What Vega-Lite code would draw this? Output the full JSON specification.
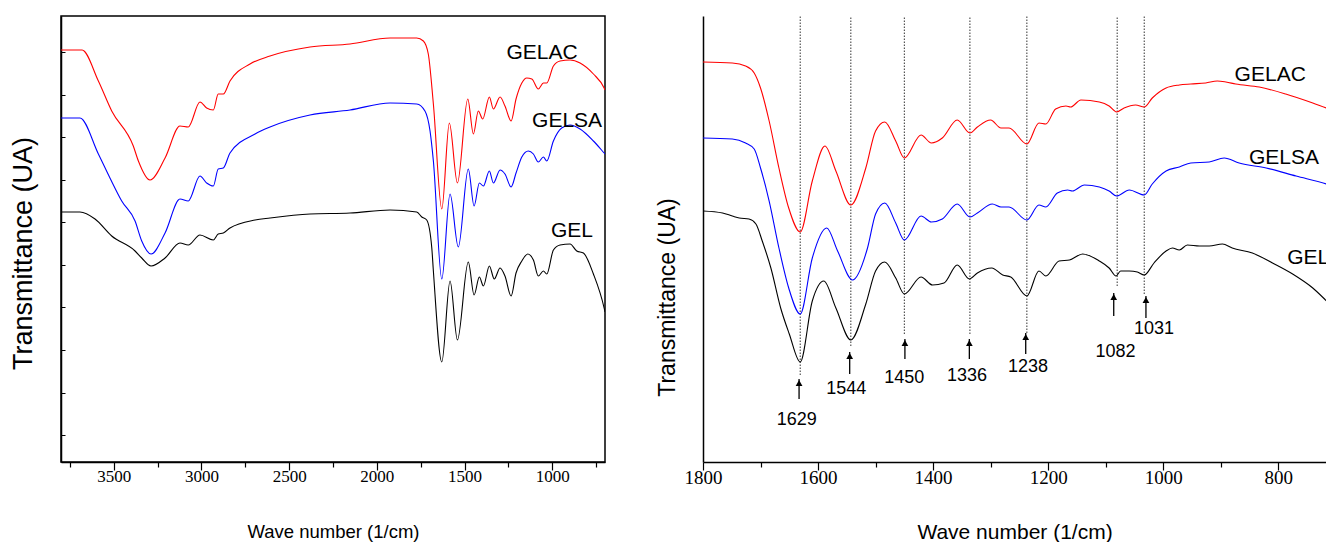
{
  "$schema": "https://vega.github.io/schema/vega-lite/v6.json",
  "padding": {"left": 8, "top": 15, "right": 0, "bottom": 0},
  "spacing": 50,
  "background": "white",
  "config": {
    "view": {"stroke": "black", "strokeWidth": 1.5},
    "axis": {"domainColor": "black", "domainWidth": 1.5, "tickColor": "black", "tickWidth": 1.2, "labelFont": "Liberation Serif", "labelFontSize": 19, "labelColor": "black", "titleFont": "Liberation Sans", "titleFontWeight": "normal", "titleColor": "black", "grid": false, "labelFlush": false, "labelOverlap": false}
  },
  "datasets": {
    "spectra": [
      {"panel": "A", "series": "GELAC", "wn": 3800, "t": 412}, {"panel": "A", "series": "GELAC", "wn": 3680, "t": 412}, {"panel": "A", "series": "GELAC", "wn": 3587, "t": 381}, {"panel": "A", "series": "GELAC", "wn": 3511, "t": 351}, {"panel": "A", "series": "GELAC", "wn": 3388, "t": 316}, {"panel": "A", "series": "GELAC", "wn": 3359, "t": 301}, {"panel": "A", "series": "GELAC", "wn": 3293, "t": 282}, {"panel": "A", "series": "GELAC", "wn": 3207, "t": 304}, {"panel": "A", "series": "GELAC", "wn": 3122, "t": 336}, {"panel": "A", "series": "GELAC", "wn": 3075, "t": 335}, {"panel": "A", "series": "GELAC", "wn": 3008, "t": 360}, {"panel": "A", "series": "GELAC", "wn": 2970, "t": 354}, {"panel": "A", "series": "GELAC", "wn": 2932, "t": 352}, {"panel": "A", "series": "GELAC", "wn": 2904, "t": 368}, {"panel": "A", "series": "GELAC", "wn": 2875, "t": 368}, {"panel": "A", "series": "GELAC", "wn": 2837, "t": 381}, {"panel": "A", "series": "GELAC", "wn": 2723, "t": 398}, {"panel": "A", "series": "GELAC", "wn": 2609, "t": 406}, {"panel": "A", "series": "GELAC", "wn": 2381, "t": 415}, {"panel": "A", "series": "GELAC", "wn": 2153, "t": 418}, {"panel": "A", "series": "GELAC", "wn": 1925, "t": 424}, {"panel": "A", "series": "GELAC", "wn": 1773, "t": 424}, {"panel": "A", "series": "GELAC", "wn": 1735, "t": 421}, {"panel": "A", "series": "GELAC", "wn": 1707, "t": 408}, {"panel": "A", "series": "GELAC", "wn": 1678, "t": 358}, {"panel": "A", "series": "GELAC", "wn": 1630, "t": 253}, {"panel": "A", "series": "GELAC", "wn": 1587, "t": 339}, {"panel": "A", "series": "GELAC", "wn": 1541, "t": 279}, {"panel": "A", "series": "GELAC", "wn": 1482, "t": 363}, {"panel": "A", "series": "GELAC", "wn": 1450, "t": 328}, {"panel": "A", "series": "GELAC", "wn": 1422, "t": 351}, {"panel": "A", "series": "GELAC", "wn": 1397, "t": 343}, {"panel": "A", "series": "GELAC", "wn": 1359, "t": 365}, {"panel": "A", "series": "GELAC", "wn": 1336, "t": 353}, {"panel": "A", "series": "GELAC", "wn": 1298, "t": 365}, {"panel": "A", "series": "GELAC", "wn": 1270, "t": 356}, {"panel": "A", "series": "GELAC", "wn": 1235, "t": 341}, {"panel": "A", "series": "GELAC", "wn": 1207, "t": 363}, {"panel": "A", "series": "GELAC", "wn": 1174, "t": 379}, {"panel": "A", "series": "GELAC", "wn": 1146, "t": 384}, {"panel": "A", "series": "GELAC", "wn": 1117, "t": 383}, {"panel": "A", "series": "GELAC", "wn": 1080, "t": 373}, {"panel": "A", "series": "GELAC", "wn": 1051, "t": 379}, {"panel": "A", "series": "GELAC", "wn": 1032, "t": 379}, {"panel": "A", "series": "GELAC", "wn": 994, "t": 396}, {"panel": "A", "series": "GELAC", "wn": 956, "t": 401}, {"panel": "A", "series": "GELAC", "wn": 899, "t": 402}, {"panel": "A", "series": "GELAC", "wn": 842, "t": 399}, {"panel": "A", "series": "GELAC", "wn": 766, "t": 388}, {"panel": "A", "series": "GELAC", "wn": 705, "t": 374}, {"panel": "A", "series": "GELAC", "wn": 700, "t": 372},
      {"panel": "A", "series": "GELSA", "wn": 3800, "t": 344}, {"panel": "A", "series": "GELSA", "wn": 3692, "t": 344}, {"panel": "A", "series": "GELSA", "wn": 3587, "t": 308}, {"panel": "A", "series": "GELSA", "wn": 3521, "t": 284}, {"panel": "A", "series": "GELSA", "wn": 3454, "t": 261}, {"panel": "A", "series": "GELSA", "wn": 3378, "t": 241}, {"panel": "A", "series": "GELSA", "wn": 3340, "t": 221}, {"panel": "A", "series": "GELSA", "wn": 3287, "t": 208}, {"panel": "A", "series": "GELSA", "wn": 3207, "t": 229}, {"panel": "A", "series": "GELSA", "wn": 3122, "t": 263}, {"panel": "A", "series": "GELSA", "wn": 3075, "t": 261}, {"panel": "A", "series": "GELSA", "wn": 3008, "t": 286}, {"panel": "A", "series": "GELSA", "wn": 2970, "t": 279}, {"panel": "A", "series": "GELSA", "wn": 2932, "t": 276}, {"panel": "A", "series": "GELSA", "wn": 2904, "t": 293}, {"panel": "A", "series": "GELSA", "wn": 2875, "t": 294}, {"panel": "A", "series": "GELSA", "wn": 2837, "t": 309}, {"panel": "A", "series": "GELSA", "wn": 2694, "t": 328}, {"panel": "A", "series": "GELSA", "wn": 2609, "t": 335}, {"panel": "A", "series": "GELSA", "wn": 2381, "t": 347}, {"panel": "A", "series": "GELSA", "wn": 2153, "t": 352}, {"panel": "A", "series": "GELSA", "wn": 1925, "t": 359}, {"panel": "A", "series": "GELSA", "wn": 1773, "t": 358}, {"panel": "A", "series": "GELSA", "wn": 1726, "t": 351}, {"panel": "A", "series": "GELSA", "wn": 1697, "t": 331}, {"panel": "A", "series": "GELSA", "wn": 1678, "t": 301}, {"panel": "A", "series": "GELSA", "wn": 1630, "t": 183}, {"panel": "A", "series": "GELSA", "wn": 1583, "t": 268}, {"panel": "A", "series": "GELSA", "wn": 1536, "t": 215}, {"panel": "A", "series": "GELSA", "wn": 1479, "t": 293}, {"panel": "A", "series": "GELSA", "wn": 1446, "t": 256}, {"panel": "A", "series": "GELSA", "wn": 1416, "t": 279}, {"panel": "A", "series": "GELSA", "wn": 1393, "t": 276}, {"panel": "A", "series": "GELSA", "wn": 1359, "t": 291}, {"panel": "A", "series": "GELSA", "wn": 1336, "t": 279}, {"panel": "A", "series": "GELSA", "wn": 1298, "t": 292}, {"panel": "A", "series": "GELSA", "wn": 1270, "t": 288}, {"panel": "A", "series": "GELSA", "wn": 1235, "t": 275}, {"panel": "A", "series": "GELSA", "wn": 1207, "t": 289}, {"panel": "A", "series": "GELSA", "wn": 1174, "t": 305}, {"panel": "A", "series": "GELSA", "wn": 1137, "t": 311}, {"panel": "A", "series": "GELSA", "wn": 1108, "t": 308}, {"panel": "A", "series": "GELSA", "wn": 1080, "t": 300}, {"panel": "A", "series": "GELSA", "wn": 1051, "t": 305}, {"panel": "A", "series": "GELSA", "wn": 1032, "t": 301}, {"panel": "A", "series": "GELSA", "wn": 994, "t": 321}, {"panel": "A", "series": "GELSA", "wn": 947, "t": 334}, {"panel": "A", "series": "GELSA", "wn": 899, "t": 337}, {"panel": "A", "series": "GELSA", "wn": 842, "t": 333}, {"panel": "A", "series": "GELSA", "wn": 766, "t": 321}, {"panel": "A", "series": "GELSA", "wn": 705, "t": 309}, {"panel": "A", "series": "GELSA", "wn": 700, "t": 308},
      {"panel": "A", "series": "GEL", "wn": 3800, "t": 250}, {"panel": "A", "series": "GEL", "wn": 3692, "t": 250}, {"panel": "A", "series": "GEL", "wn": 3606, "t": 243}, {"panel": "A", "series": "GEL", "wn": 3511, "t": 226}, {"panel": "A", "series": "GEL", "wn": 3378, "t": 211}, {"panel": "A", "series": "GEL", "wn": 3340, "t": 204}, {"panel": "A", "series": "GEL", "wn": 3287, "t": 196}, {"panel": "A", "series": "GEL", "wn": 3207, "t": 204}, {"panel": "A", "series": "GEL", "wn": 3122, "t": 219}, {"panel": "A", "series": "GEL", "wn": 3075, "t": 217}, {"panel": "A", "series": "GEL", "wn": 3008, "t": 227}, {"panel": "A", "series": "GEL", "wn": 2932, "t": 222}, {"panel": "A", "series": "GEL", "wn": 2904, "t": 228}, {"panel": "A", "series": "GEL", "wn": 2875, "t": 229}, {"panel": "A", "series": "GEL", "wn": 2837, "t": 234}, {"panel": "A", "series": "GEL", "wn": 2694, "t": 242}, {"panel": "A", "series": "GEL", "wn": 2609, "t": 244}, {"panel": "A", "series": "GEL", "wn": 2381, "t": 248}, {"panel": "A", "series": "GEL", "wn": 2153, "t": 249}, {"panel": "A", "series": "GEL", "wn": 1925, "t": 252}, {"panel": "A", "series": "GEL", "wn": 1773, "t": 250}, {"panel": "A", "series": "GEL", "wn": 1744, "t": 245}, {"panel": "A", "series": "GEL", "wn": 1716, "t": 242}, {"panel": "A", "series": "GEL", "wn": 1687, "t": 214}, {"panel": "A", "series": "GEL", "wn": 1678, "t": 191}, {"panel": "A", "series": "GEL", "wn": 1630, "t": 100}, {"panel": "A", "series": "GEL", "wn": 1583, "t": 181}, {"panel": "A", "series": "GEL", "wn": 1541, "t": 122}, {"panel": "A", "series": "GEL", "wn": 1479, "t": 200}, {"panel": "A", "series": "GEL", "wn": 1446, "t": 167}, {"panel": "A", "series": "GEL", "wn": 1416, "t": 185}, {"panel": "A", "series": "GEL", "wn": 1393, "t": 176}, {"panel": "A", "series": "GEL", "wn": 1359, "t": 196}, {"panel": "A", "series": "GEL", "wn": 1331, "t": 183}, {"panel": "A", "series": "GEL", "wn": 1298, "t": 194}, {"panel": "A", "series": "GEL", "wn": 1270, "t": 186}, {"panel": "A", "series": "GEL", "wn": 1235, "t": 166}, {"panel": "A", "series": "GEL", "wn": 1207, "t": 189}, {"panel": "A", "series": "GEL", "wn": 1174, "t": 201}, {"panel": "A", "series": "GEL", "wn": 1140, "t": 208}, {"panel": "A", "series": "GEL", "wn": 1108, "t": 202}, {"panel": "A", "series": "GEL", "wn": 1080, "t": 186}, {"panel": "A", "series": "GEL", "wn": 1051, "t": 191}, {"panel": "A", "series": "GEL", "wn": 1032, "t": 188}, {"panel": "A", "series": "GEL", "wn": 994, "t": 212}, {"panel": "A", "series": "GEL", "wn": 956, "t": 217}, {"panel": "A", "series": "GEL", "wn": 899, "t": 218}, {"panel": "A", "series": "GEL", "wn": 861, "t": 211}, {"panel": "A", "series": "GEL", "wn": 823, "t": 209}, {"panel": "A", "series": "GEL", "wn": 766, "t": 188}, {"panel": "A", "series": "GEL", "wn": 705, "t": 154}, {"panel": "A", "series": "GEL", "wn": 700, "t": 150},
      {"panel": "B", "series": "GELAC", "wn": 1800, "t": 400}, {"panel": "B", "series": "GELAC", "wn": 1749, "t": 399}, {"panel": "B", "series": "GELAC", "wn": 1726, "t": 396}, {"panel": "B", "series": "GELAC", "wn": 1711, "t": 389}, {"panel": "B", "series": "GELAC", "wn": 1700, "t": 374}, {"panel": "B", "series": "GELAC", "wn": 1685, "t": 341}, {"panel": "B", "series": "GELAC", "wn": 1668, "t": 294}, {"panel": "B", "series": "GELAC", "wn": 1651, "t": 254}, {"panel": "B", "series": "GELAC", "wn": 1631, "t": 230}, {"panel": "B", "series": "GELAC", "wn": 1610, "t": 281}, {"panel": "B", "series": "GELAC", "wn": 1588, "t": 316}, {"panel": "B", "series": "GELAC", "wn": 1569, "t": 291}, {"panel": "B", "series": "GELAC", "wn": 1543, "t": 257}, {"panel": "B", "series": "GELAC", "wn": 1517, "t": 294}, {"panel": "B", "series": "GELAC", "wn": 1500, "t": 331}, {"panel": "B", "series": "GELAC", "wn": 1484, "t": 340}, {"panel": "B", "series": "GELAC", "wn": 1465, "t": 321}, {"panel": "B", "series": "GELAC", "wn": 1450, "t": 304}, {"panel": "B", "series": "GELAC", "wn": 1421, "t": 327}, {"panel": "B", "series": "GELAC", "wn": 1403, "t": 319}, {"panel": "B", "series": "GELAC", "wn": 1384, "t": 324}, {"panel": "B", "series": "GELAC", "wn": 1358, "t": 342}, {"panel": "B", "series": "GELAC", "wn": 1336, "t": 329}, {"panel": "B", "series": "GELAC", "wn": 1323, "t": 335}, {"panel": "B", "series": "GELAC", "wn": 1300, "t": 342}, {"panel": "B", "series": "GELAC", "wn": 1282, "t": 334}, {"panel": "B", "series": "GELAC", "wn": 1268, "t": 334}, {"panel": "B", "series": "GELAC", "wn": 1237, "t": 318}, {"panel": "B", "series": "GELAC", "wn": 1216, "t": 339}, {"panel": "B", "series": "GELAC", "wn": 1204, "t": 338}, {"panel": "B", "series": "GELAC", "wn": 1187, "t": 353}, {"panel": "B", "series": "GELAC", "wn": 1169, "t": 356}, {"panel": "B", "series": "GELAC", "wn": 1161, "t": 355}, {"panel": "B", "series": "GELAC", "wn": 1143, "t": 362}, {"panel": "B", "series": "GELAC", "wn": 1111, "t": 360}, {"panel": "B", "series": "GELAC", "wn": 1094, "t": 356}, {"panel": "B", "series": "GELAC", "wn": 1081, "t": 350}, {"panel": "B", "series": "GELAC", "wn": 1068, "t": 354}, {"panel": "B", "series": "GELAC", "wn": 1048, "t": 357}, {"panel": "B", "series": "GELAC", "wn": 1033, "t": 355}, {"panel": "B", "series": "GELAC", "wn": 1019, "t": 364}, {"panel": "B", "series": "GELAC", "wn": 995, "t": 374}, {"panel": "B", "series": "GELAC", "wn": 972, "t": 377}, {"panel": "B", "series": "GELAC", "wn": 952, "t": 378}, {"panel": "B", "series": "GELAC", "wn": 926, "t": 379}, {"panel": "B", "series": "GELAC", "wn": 906, "t": 381}, {"panel": "B", "series": "GELAC", "wn": 891, "t": 380}, {"panel": "B", "series": "GELAC", "wn": 874, "t": 378}, {"panel": "B", "series": "GELAC", "wn": 833, "t": 375}, {"panel": "B", "series": "GELAC", "wn": 787, "t": 368}, {"panel": "B", "series": "GELAC", "wn": 740, "t": 359}, {"panel": "B", "series": "GELAC", "wn": 716, "t": 354}, {"panel": "B", "series": "GELAC", "wn": 700, "t": 351},
      {"panel": "B", "series": "GELSA", "wn": 1800, "t": 324}, {"panel": "B", "series": "GELSA", "wn": 1749, "t": 323}, {"panel": "B", "series": "GELSA", "wn": 1726, "t": 319}, {"panel": "B", "series": "GELSA", "wn": 1711, "t": 313}, {"panel": "B", "series": "GELSA", "wn": 1700, "t": 294}, {"panel": "B", "series": "GELSA", "wn": 1685, "t": 261}, {"panel": "B", "series": "GELSA", "wn": 1668, "t": 214}, {"panel": "B", "series": "GELSA", "wn": 1651, "t": 174}, {"panel": "B", "series": "GELSA", "wn": 1631, "t": 148}, {"panel": "B", "series": "GELSA", "wn": 1610, "t": 204}, {"panel": "B", "series": "GELSA", "wn": 1585, "t": 234}, {"panel": "B", "series": "GELSA", "wn": 1566, "t": 211}, {"panel": "B", "series": "GELSA", "wn": 1540, "t": 182}, {"panel": "B", "series": "GELSA", "wn": 1514, "t": 214}, {"panel": "B", "series": "GELSA", "wn": 1500, "t": 248}, {"panel": "B", "series": "GELSA", "wn": 1484, "t": 259}, {"panel": "B", "series": "GELSA", "wn": 1465, "t": 239}, {"panel": "B", "series": "GELSA", "wn": 1450, "t": 222}, {"panel": "B", "series": "GELSA", "wn": 1421, "t": 246}, {"panel": "B", "series": "GELSA", "wn": 1403, "t": 240}, {"panel": "B", "series": "GELSA", "wn": 1384, "t": 243}, {"panel": "B", "series": "GELSA", "wn": 1358, "t": 258}, {"panel": "B", "series": "GELSA", "wn": 1336, "t": 245}, {"panel": "B", "series": "GELSA", "wn": 1323, "t": 249}, {"panel": "B", "series": "GELSA", "wn": 1297, "t": 258}, {"panel": "B", "series": "GELSA", "wn": 1282, "t": 255}, {"panel": "B", "series": "GELSA", "wn": 1268, "t": 255}, {"panel": "B", "series": "GELSA", "wn": 1237, "t": 242}, {"panel": "B", "series": "GELSA", "wn": 1216, "t": 257}, {"panel": "B", "series": "GELSA", "wn": 1204, "t": 255}, {"panel": "B", "series": "GELSA", "wn": 1184, "t": 269}, {"panel": "B", "series": "GELSA", "wn": 1166, "t": 272}, {"panel": "B", "series": "GELSA", "wn": 1158, "t": 271}, {"panel": "B", "series": "GELSA", "wn": 1137, "t": 277}, {"panel": "B", "series": "GELSA", "wn": 1111, "t": 275}, {"panel": "B", "series": "GELSA", "wn": 1094, "t": 271}, {"panel": "B", "series": "GELSA", "wn": 1081, "t": 266}, {"panel": "B", "series": "GELSA", "wn": 1059, "t": 272}, {"panel": "B", "series": "GELSA", "wn": 1033, "t": 267}, {"panel": "B", "series": "GELSA", "wn": 1019, "t": 278}, {"panel": "B", "series": "GELSA", "wn": 995, "t": 291}, {"panel": "B", "series": "GELSA", "wn": 972, "t": 295}, {"panel": "B", "series": "GELSA", "wn": 952, "t": 299}, {"panel": "B", "series": "GELSA", "wn": 920, "t": 300}, {"panel": "B", "series": "GELSA", "wn": 894, "t": 304}, {"panel": "B", "series": "GELSA", "wn": 868, "t": 299}, {"panel": "B", "series": "GELSA", "wn": 821, "t": 294}, {"panel": "B", "series": "GELSA", "wn": 769, "t": 286}, {"panel": "B", "series": "GELSA", "wn": 716, "t": 278}, {"panel": "B", "series": "GELSA", "wn": 700, "t": 275},
      {"panel": "B", "series": "GEL", "wn": 1800, "t": 251}, {"panel": "B", "series": "GEL", "wn": 1766, "t": 249}, {"panel": "B", "series": "GEL", "wn": 1749, "t": 246}, {"panel": "B", "series": "GEL", "wn": 1737, "t": 244}, {"panel": "B", "series": "GEL", "wn": 1720, "t": 243}, {"panel": "B", "series": "GEL", "wn": 1708, "t": 238}, {"panel": "B", "series": "GEL", "wn": 1697, "t": 221}, {"panel": "B", "series": "GEL", "wn": 1682, "t": 194}, {"panel": "B", "series": "GEL", "wn": 1665, "t": 154}, {"panel": "B", "series": "GEL", "wn": 1650, "t": 128}, {"panel": "B", "series": "GEL", "wn": 1631, "t": 100}, {"panel": "B", "series": "GEL", "wn": 1610, "t": 161}, {"panel": "B", "series": "GEL", "wn": 1590, "t": 181}, {"panel": "B", "series": "GEL", "wn": 1569, "t": 154}, {"panel": "B", "series": "GEL", "wn": 1543, "t": 122}, {"panel": "B", "series": "GEL", "wn": 1517, "t": 158}, {"panel": "B", "series": "GEL", "wn": 1500, "t": 191}, {"panel": "B", "series": "GEL", "wn": 1484, "t": 200}, {"panel": "B", "series": "GEL", "wn": 1465, "t": 184}, {"panel": "B", "series": "GEL", "wn": 1450, "t": 168}, {"panel": "B", "series": "GEL", "wn": 1421, "t": 185}, {"panel": "B", "series": "GEL", "wn": 1401, "t": 177}, {"panel": "B", "series": "GEL", "wn": 1381, "t": 179}, {"panel": "B", "series": "GEL", "wn": 1358, "t": 197}, {"panel": "B", "series": "GEL", "wn": 1337, "t": 183}, {"panel": "B", "series": "GEL", "wn": 1323, "t": 189}, {"panel": "B", "series": "GEL", "wn": 1298, "t": 194}, {"panel": "B", "series": "GEL", "wn": 1279, "t": 187}, {"panel": "B", "series": "GEL", "wn": 1265, "t": 185}, {"panel": "B", "series": "GEL", "wn": 1237, "t": 166}, {"panel": "B", "series": "GEL", "wn": 1216, "t": 191}, {"panel": "B", "series": "GEL", "wn": 1204, "t": 186}, {"panel": "B", "series": "GEL", "wn": 1181, "t": 201}, {"panel": "B", "series": "GEL", "wn": 1163, "t": 202}, {"panel": "B", "series": "GEL", "wn": 1140, "t": 208}, {"panel": "B", "series": "GEL", "wn": 1111, "t": 201}, {"panel": "B", "series": "GEL", "wn": 1094, "t": 194}, {"panel": "B", "series": "GEL", "wn": 1082, "t": 186}, {"panel": "B", "series": "GEL", "wn": 1074, "t": 191}, {"panel": "B", "series": "GEL", "wn": 1059, "t": 191}, {"panel": "B", "series": "GEL", "wn": 1045, "t": 190}, {"panel": "B", "series": "GEL", "wn": 1033, "t": 187}, {"panel": "B", "series": "GEL", "wn": 1016, "t": 199}, {"panel": "B", "series": "GEL", "wn": 995, "t": 211}, {"panel": "B", "series": "GEL", "wn": 984, "t": 214}, {"panel": "B", "series": "GEL", "wn": 972, "t": 212}, {"panel": "B", "series": "GEL", "wn": 958, "t": 217}, {"panel": "B", "series": "GEL", "wn": 937, "t": 216}, {"panel": "B", "series": "GEL", "wn": 920, "t": 216}, {"panel": "B", "series": "GEL", "wn": 897, "t": 218}, {"panel": "B", "series": "GEL", "wn": 880, "t": 214}, {"panel": "B", "series": "GEL", "wn": 845, "t": 209}, {"panel": "B", "series": "GEL", "wn": 810, "t": 199}, {"panel": "B", "series": "GEL", "wn": 775, "t": 188}, {"panel": "B", "series": "GEL", "wn": 740, "t": 174}, {"panel": "B", "series": "GEL", "wn": 716, "t": 161}, {"panel": "B", "series": "GEL", "wn": 700, "t": 152}
    ],
    "labels": [
      {"panel": "A", "series": "GELAC", "wn": 1059, "t": 409},
      {"panel": "A", "series": "GELSA", "wn": 916, "t": 341},
      {"panel": "A", "series": "GEL", "wn": 888, "t": 231},
      {"panel": "B", "series": "GELAC", "wn": 814, "t": 387},
      {"panel": "B", "series": "GELSA", "wn": 790, "t": 304},
      {"panel": "B", "series": "GEL", "wn": 748, "t": 204}
    ],
    "peaks": [
      {"peak": "1629", "xl": 1631, "lb": 87, "xa": 1633, "tip": 83, "base": 63, "xt": 1637, "yt": 42},
      {"peak": "1544", "xl": 1543, "lb": 116, "xa": 1545, "tip": 110, "base": 88, "xt": 1551, "yt": 73},
      {"peak": "1450", "xl": 1450, "lb": 128, "xa": 1449, "tip": 123, "base": 103, "xt": 1450, "yt": 84},
      {"peak": "1336", "xl": 1336, "lb": 128, "xa": 1337, "tip": 123, "base": 103, "xt": 1341, "yt": 86},
      {"peak": "1238", "xl": 1237, "lb": 129, "xa": 1239, "tip": 129, "base": 108, "xt": 1235, "yt": 95},
      {"peak": "1082", "xl": 1080, "lb": 176, "xa": 1086, "tip": 169, "base": 146, "xt": 1083, "yt": 110},
      {"peak": "1031", "xl": 1033, "lb": 168, "xa": 1030, "tip": 166, "base": 144, "xt": 1016, "yt": 133}
    ]
  },
  "hconcat": [
    {
      "width": 544,
      "height": 446,
      "layer": [
        {
          "data": {"name": "spectra"},
          "transform": [{"filter": "datum.panel === 'A'"}],
          "mark": {"type": "line", "strokeWidth": 1.1, "clip": true, "interpolate": "monotone"},
          "encoding": {
            "x": {"field": "wn", "type": "quantitative", "scale": {"domain": [3800, 700], "nice": false, "zero": false},
              "axis": {"title": "Wave number (1/cm)", "titleFontSize": 18.5, "titlePadding": 38, "labelPadding": -2, "labelFontSize": 17, "format": "d",
                "values": [3750, 3500, 3250, 3000, 2750, 2500, 2250, 2000, 1750, 1500, 1250, 1000, 750],
                "labelExpr": "datum.value % 500 === 0 ? datum.label : ''",
                "tickSize": {"condition": {"test": "datum.value % 500 === 0", "value": 8}, "value": 5}}},
            "y": {"field": "t", "type": "quantitative", "scale": {"domain": [0, 446], "nice": false, "zero": false},
              "axis": {"title": "Transmittance (UA)", "titleFontSize": 27, "titlePadding": 23, "titleY": 237, "labels": false, "tickSize": -4, "tickWidth": 1,
                "values": [27, 48, 69, 91, 112, 133, 155, 176, 197, 218, 240, 261, 282, 304, 325, 346, 367, 389, 410, 431]}},
            "color": {"field": "series", "type": "nominal", "scale": {"domain": ["GELAC", "GELSA", "GEL"], "range": ["#ff0000", "#0000ff", "#000000"]}, "legend": null}
          }
        },
        {
          "data": {"name": "labels"},
          "transform": [{"filter": "datum.panel === 'A'"}],
          "mark": {"type": "text", "font": "Liberation Sans", "fontSize": 21, "color": "black", "align": "center", "baseline": "middle"},
          "encoding": {
            "x": {"field": "wn", "type": "quantitative"},
            "y": {"field": "t", "type": "quantitative"},
            "text": {"field": "series"}
          }
        }
      ]
    },
    {
      "width": 623,
      "height": 446,
      "view": {"stroke": null},
      "layer": [
        {
          "data": {"name": "peaks"},
          "mark": {"type": "rule", "strokeWidth": 1, "strokeDash": [1.5, 1.5], "color": "#333333"},
          "encoding": {
            "x": {"field": "xl", "type": "quantitative", "scale": {"domain": [1800, 717], "nice": false, "zero": false},
              "axis": {"title": "Wave number (1/cm)", "titleFontSize": 21, "titlePadding": 34, "labelPadding": -2, "format": "d",
                "values": [1800, 1700, 1600, 1500, 1400, 1300, 1200, 1100, 1000, 900, 800],
                "labelExpr": "datum.value % 200 === 0 ? datum.label : ''",
                "tickSize": {"condition": {"test": "datum.value % 200 === 0", "value": 8}, "value": 5}}},
            "y": {"field": "lb", "type": "quantitative", "scale": {"domain": [0, 446], "nice": false, "zero": false},
              "axis": {"title": "Transmittance (UA)", "titleFontSize": 23, "titlePadding": 24, "titleY": 281, "labels": false, "ticks": false}},
            "y2": {"datum": 446}
          }
        },
        {
          "data": {"name": "spectra"},
          "transform": [{"filter": "datum.panel === 'B'"}],
          "mark": {"type": "line", "strokeWidth": 1.1, "clip": true, "interpolate": "monotone"},
          "encoding": {
            "x": {"field": "wn", "type": "quantitative"},
            "y": {"field": "t", "type": "quantitative"},
            "color": {"field": "series", "type": "nominal", "scale": {"domain": ["GELAC", "GELSA", "GEL"], "range": ["#ff0000", "#0000ff", "#000000"]}, "legend": null}
          }
        },
        {
          "data": {"name": "peaks"},
          "mark": {"type": "rule", "strokeWidth": 1.3, "color": "black"},
          "encoding": {
            "x": {"field": "xa", "type": "quantitative"},
            "y": {"field": "base", "type": "quantitative"},
            "y2": {"field": "tip"}
          }
        },
        {
          "data": {"name": "peaks"},
          "mark": {"type": "point", "shape": "triangle-up", "filled": true, "size": 45, "color": "black", "opacity": 1, "yOffset": 4},
          "encoding": {
            "x": {"field": "xa", "type": "quantitative"},
            "y": {"field": "tip", "type": "quantitative"}
          }
        },
        {
          "data": {"name": "peaks"},
          "mark": {"type": "text", "font": "Liberation Sans", "fontSize": 18, "color": "black", "align": "center", "baseline": "middle"},
          "encoding": {
            "x": {"field": "xt", "type": "quantitative"},
            "y": {"field": "yt", "type": "quantitative"},
            "text": {"field": "peak"}
          }
        },
        {
          "data": {"name": "labels"},
          "transform": [{"filter": "datum.panel === 'B'"}],
          "mark": {"type": "text", "font": "Liberation Sans", "fontSize": 21, "color": "black", "align": "center", "baseline": "middle", "clip": true},
          "encoding": {
            "x": {"field": "wn", "type": "quantitative"},
            "y": {"field": "t", "type": "quantitative"},
            "text": {"field": "series"}
          }
        },
        {
          "mark": {"type": "rule", "strokeWidth": 1.5, "color": "black"},
          "encoding": {"y": {"datum": 446}}
        }
      ]
    }
  ]
}
